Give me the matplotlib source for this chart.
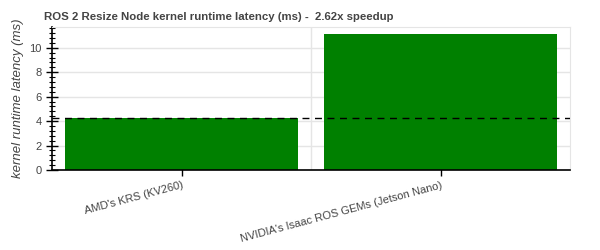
import numpy as np
import matplotlib
matplotlib.use("Agg")
import matplotlib.pyplot as plt
from matplotlib.ticker import MultipleLocator

plt.rcParams["font.family"] = ["Liberation Sans", "DejaVu Sans"]

# data
categories = ["AMD's KRS (KV260)", "NVIDIA's Isaac ROS GEMs (Jetson Nano)"]
latency_ms = [4.25, 11.14]
baseline = latency_ms[0]
speedup = latency_ms[1] / latency_ms[0]

fig = plt.figure(figsize=(6, 2.5), dpi=100)
ax = fig.add_axes([0.087, 0.32, 0.863, 0.572])

x = np.arange(len(categories)) + 0.5
ax.bar(x, latency_ms, width=0.9, color="#008000", zorder=2)
ax.axhline(baseline, color="black", linestyle=(0, (5, 4)), linewidth=1, zorder=3)

ax.set_xlim(0, 2)
ax.set_ylim(0, 11.7)

ax.set_xticks(x)
ax.set_xticklabels(categories, rotation=15, ha="right", rotation_mode="anchor",
                   fontsize=8, color="#444444")
ax.yaxis.set_major_locator(MultipleLocator(2))
ax.yaxis.set_minor_locator(MultipleLocator(0.4))
ax.tick_params(axis="y", which="major", direction="inout", length=8, width=1,
               labelsize=8, labelcolor="#444444")
ax.tick_params(axis="y", which="minor", direction="inout", length=5, width=0.8)
ax.tick_params(axis="x", which="major", direction="inout", length=8, width=1)

# grid
ax.grid(axis="y", which="major", color="#e5e5e5", linewidth=1, zorder=0)
ax.set_axisbelow(True)
ax.axvline(1.0, color="#e5e5e5", linewidth=1, zorder=0)

for side in ["top", "right"]:
    ax.spines[side].set_color("#e5e5e5")
ax.spines["left"].set_linewidth(1.2)
ax.spines["bottom"].set_linewidth(1.2)

ax.set_ylabel("kernel runtime latency (ms)", fontsize=9.5, style="italic", color="#444444")
fig.text(0.073, 0.92, f"ROS 2 Resize Node kernel runtime latency (ms) -  {speedup:.2f}x speedup",
         fontsize=8.2, fontweight="bold", color="#444444", va="baseline")

fig.savefig("out.png", dpi=100)
